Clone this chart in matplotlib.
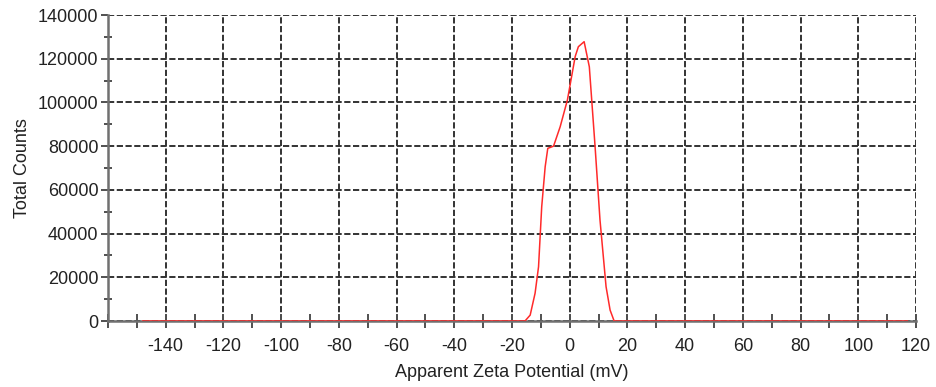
import numpy as np
import matplotlib.pyplot as plt
from matplotlib.ticker import MultipleLocator

plt.rcParams['font.family'] = ['Liberation Sans', 'DejaVu Sans']
plt.rcParams['axes.unicode_minus'] = False

# zeta potential distribution
zeta = [-148, -15.5, -13.7, -12.0, -10.8, -9.7, -8.5, -7.6, -5.6, -3.3, -0.8,
        1.9, 3.0, 5.0, 6.8, 8.8, 10.5, 12.6, 14.0, 15.4, 117]
counts = [0, 0, 2700, 12700, 24800, 52300, 70600, 79000, 80000, 88900, 101100,
          121000, 125500, 127800, 116300, 79700, 46200, 15700, 5000, 0, 0]

x_ticks = list(range(-140, 121, 20))
y_ticks = list(range(0, 140001, 20000))

fig = plt.figure(figsize=(9.36, 3.87), dpi=100)
ax = fig.add_axes([0.1154, 0.1705, 0.8632, 0.7907])

ax.plot(zeta, counts, color='#ff2a2a', lw=1.1, zorder=3)

ax.set_xlim(-160, 120)
ax.set_ylim(0, 140000)
ax.set_xticks(x_ticks)
ax.set_yticks(y_ticks)
ax.xaxis.set_minor_locator(MultipleLocator(10))
ax.yaxis.set_minor_locator(MultipleLocator(10000))

ax.grid(True, which='major', color='#333333', lw=1.4, linestyle=(0, (3.2, 1.3)))
ax.set_axisbelow(True)

for s in ['top', 'right']:
    ax.spines[s].set_visible(False)
for s in ['left', 'bottom']:
    ax.spines[s].set_color('#707070')
    ax.spines[s].set_linewidth(1.8)

ax.tick_params(axis='y', which='major', direction='out', length=5, width=1.4,
               color='#505050', labelsize=13, labelcolor='#222222', pad=2)
ax.tick_params(axis='y', which='minor', direction='inout', length=6, width=1.4,
               color='#505050')
ax.tick_params(axis='x', which='both', direction='inout', length=10, width=1.4,
               color='#505050', labelsize=13, labelcolor='#222222', pad=7)

ax.set_xlabel('Apparent Zeta Potential (mV)', fontsize=13, color='#222222', labelpad=7)
ax.set_ylabel('Total Counts', fontsize=13, color='#222222', labelpad=5)

fig.savefig('out.png', dpi=100)
